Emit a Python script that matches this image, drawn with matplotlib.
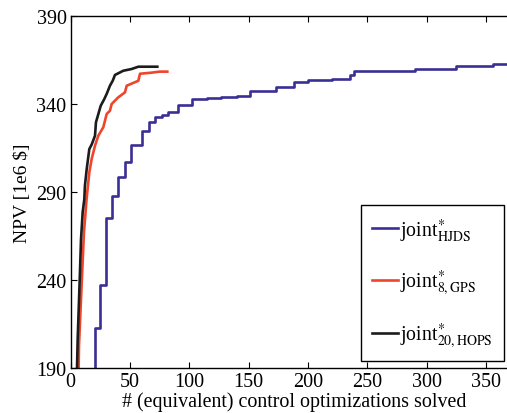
import matplotlib
matplotlib.use("Agg")
import matplotlib.pyplot as plt

plt.rcParams['font.family'] = ['Liberation Serif', 'DejaVu Serif']
plt.rcParams['mathtext.fontset'] = 'stix'

# NPV progress vs. number of (equivalent) control optimizations
hjds_x = [20.5, 20.5, 24.7, 30, 35, 40, 45.5, 50.5, 60.5, 66, 71, 76.7, 82.2, 90.6,
          102, 115, 127, 140, 151, 173, 188.4, 200, 220, 235, 238.7, 265, 290, 325, 356, 370]
hjds_y = [180, 212.7, 237.3, 275, 287.9, 298.4, 306.9, 316.9, 324.6, 329.6, 332.8, 333.9, 335.3, 339.6,
          342.8, 343.3, 343.8, 344.4, 347.3, 349.5, 352.7, 353.4, 354.1, 356.5, 358.6, 359.0, 360, 361.8, 362.7, 362.7]

gps_x = [6.5, 7, 9.2, 11.2, 13.4, 14, 15.7, 17.7, 20.5, 23.3, 27.5, 30.3, 33.1, 34.5,
         40.1, 45.7, 47.2, 57, 58.4, 68, 75, 81.4]
gps_y = [180, 202.7, 236.8, 267, 286, 290, 301.2, 308.8, 316.3, 322, 326.8, 334.3, 336.2, 340,
         343.8, 346.6, 350.4, 353.2, 357.2, 357.8, 358.4, 358.4]

hops_x = [5, 5.9, 7.8, 8.7, 10.1, 11.5, 12, 13.5, 15.7, 17.7, 20.5, 21.3, 23.3, 25.3,
          28.3, 30.3, 33.1, 35.4, 37.3, 44.3, 51.4, 57, 73]
hops_y = [180, 206.5, 244, 263, 278.5, 286, 293.6, 303, 314.4, 317, 322, 329.6, 334.3, 339,
          342.8, 345.7, 350.4, 353.2, 356.5, 358.9, 359.9, 361.2, 361.2]

labels = [r'joint$^{*}_{\mathrm{HJDS}}$', r'joint$^{*}_{\mathrm{8,GPS}}$', r'joint$^{*}_{\mathrm{20,HOPS}}$']
colors = ['#3a2f96', '#f0452a', '#1c1c1c']
styles = ['steps-post', 'default', 'default']

fig = plt.figure(figsize=(5.07, 4.14), dpi=100)
ax = fig.add_axes([0.1394, 0.1087, 0.9365, 0.8502])

for xs, ys, lab, c, ds in zip([hjds_x, gps_x, hops_x], [hjds_y, gps_y, hops_y], labels, colors, styles):
    ax.plot(xs, ys, drawstyle=ds, color=c, linewidth=1.9, label=lab)

ax.set_xlim(0, 400)
ax.set_ylim(190, 390)
ax.set_xticks(range(0, 351, 50))
ax.set_yticks([190, 240, 290, 340, 390])
ax.tick_params(direction='in', length=4, width=0.8, labelsize=14.5,
               top=True, right=True, pad=3)
for s in ax.spines.values():
    s.set_linewidth(1.0)

ax.set_xlabel('# (equivalent) control optimizations solved', fontsize=14.4)
ax.xaxis.set_label_coords(0.470, -0.066, transform=ax.transAxes)
ax.xaxis.label.set_verticalalignment('top')
ax.set_ylabel(r'NPV [1e6 \$]', fontsize=14, labelpad=4)

leg = ax.legend(loc='lower right', bbox_to_anchor=(504 / 507, 52 / 414),
                bbox_transform=fig.transFigure, borderaxespad=0, fontsize=14.2,
                handlelength=1.35, handletextpad=0.1, labelspacing=1.2,
                fancybox=False, framealpha=1, borderpad=0.55)
leg.get_frame().set_edgecolor('black')
leg.get_frame().set_linewidth(1.0)

fig.savefig('out.png', dpi=100)
